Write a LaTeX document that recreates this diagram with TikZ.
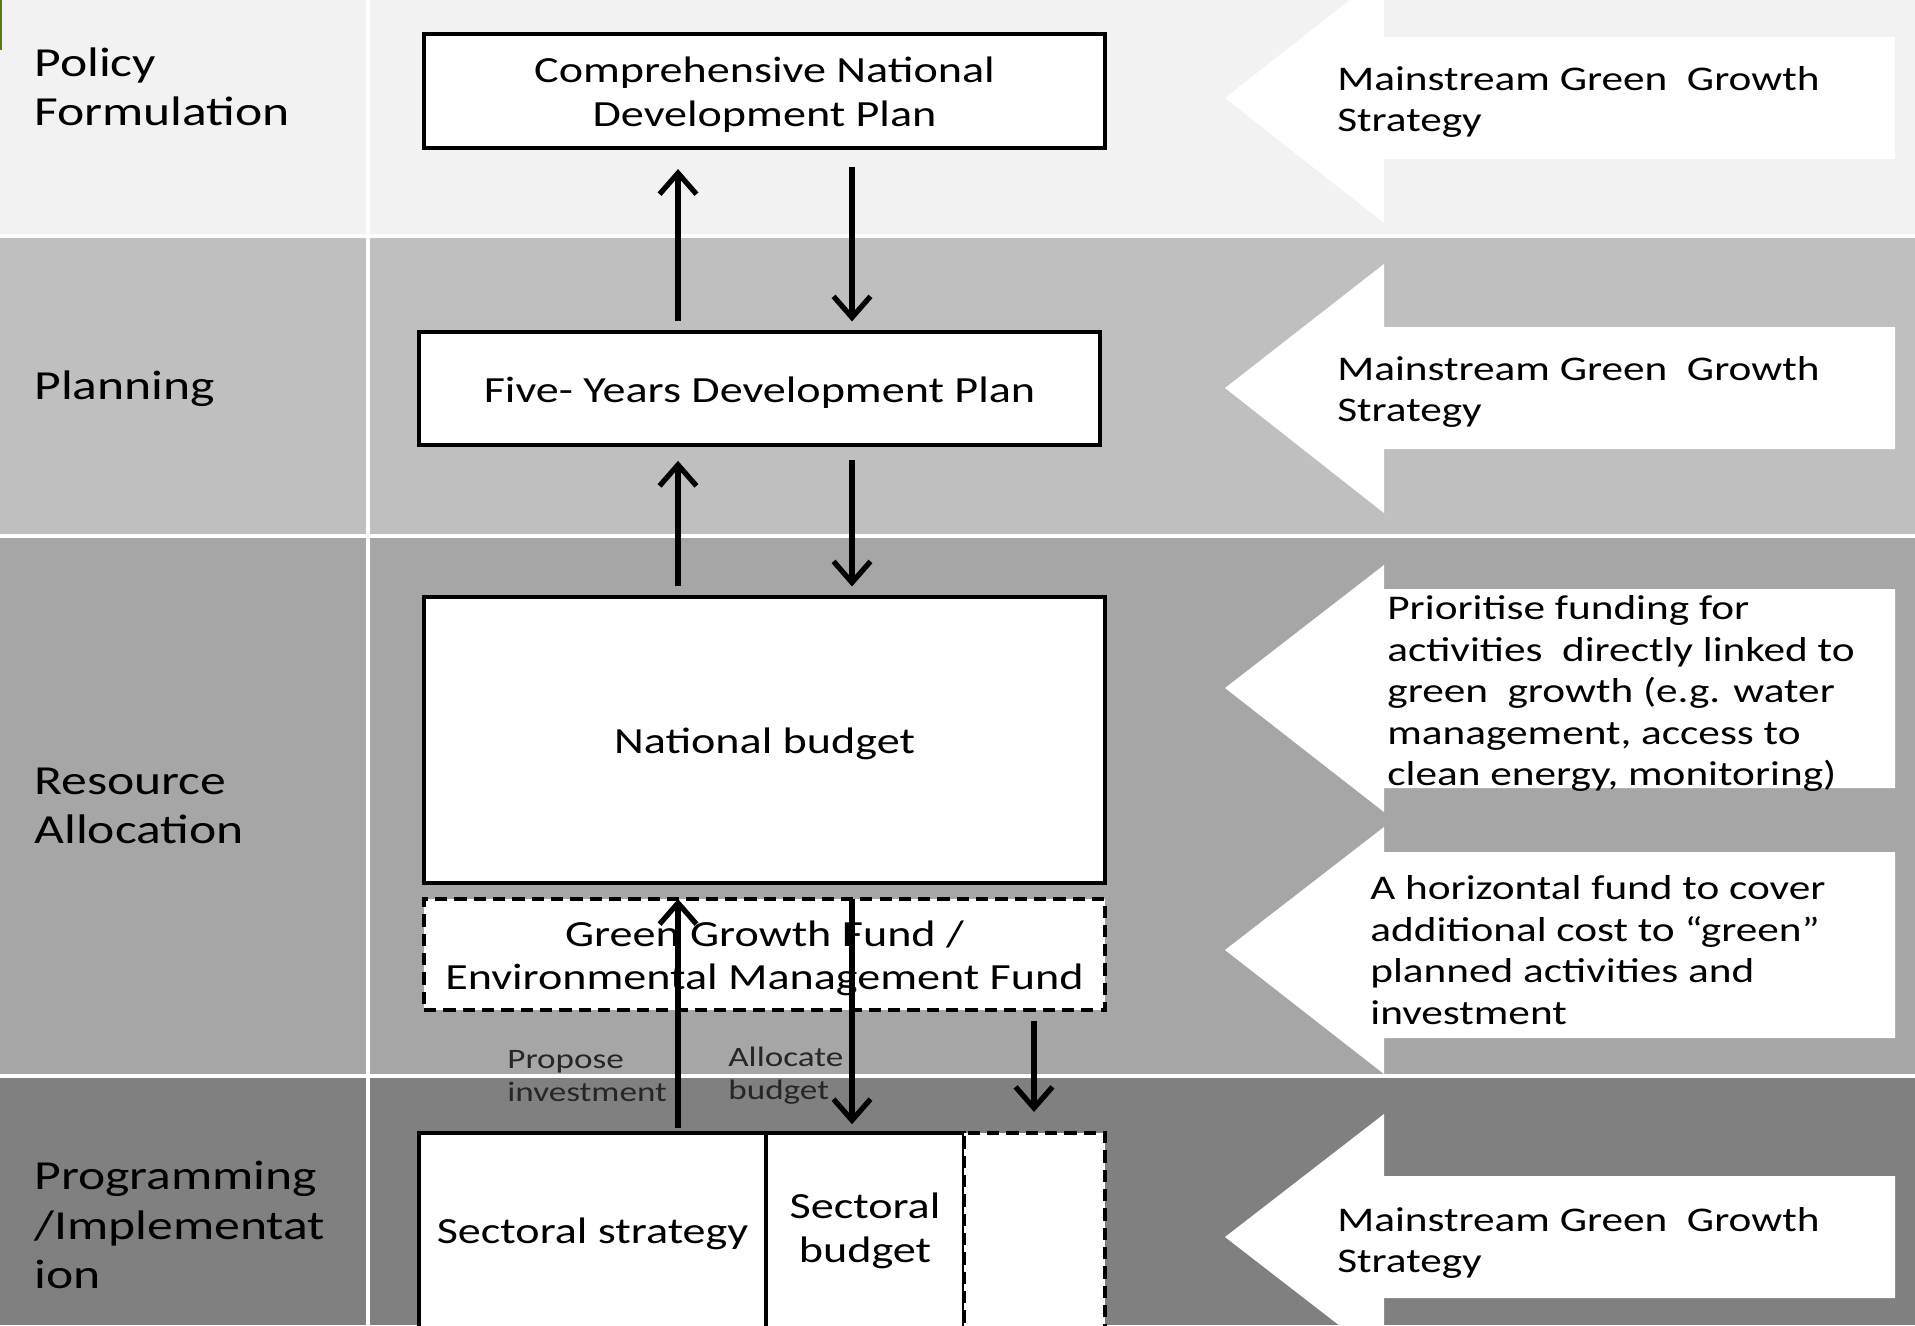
\documentclass[tikz,border=0pt]{standalone}
\usepackage{fontspec}
\setmainfont{Carlito}[FakeStretch=1.25]
\usetikzlibrary{arrows.meta}
\definecolor{bandA}{HTML}{F2F2F2}
\definecolor{bandB}{HTML}{BFBFBF}
\definecolor{bandC}{HTML}{A6A6A6}
\definecolor{bandD}{HTML}{808080}
\definecolor{smalltxt}{HTML}{262626}
\definecolor{oliveline}{HTML}{5A7A1A}
\tikzset{
  sep/.style={white, line width=1.8pt},
  phase/.style={anchor=west, align=left, inner sep=0pt, font=\fontsize{23.5}{28}\selectfont},
  box/.style={draw=black, fill=white, line width=1.9pt, inner sep=0pt, outer sep=0pt},
  dbox/.style={box, dash pattern=on 7pt off 4pt},
  btext/.style={align=center, inner sep=0pt, yshift=-2.2pt, font=\fontsize{21}{25}\selectfont},
  rtext/.style={anchor=west, align=left, inner sep=0pt, yshift=-1.6pt, font=\fontsize{19.7}{23.6}\selectfont},
  small/.style={anchor=west, align=left, inner sep=0pt, text=smalltxt, font=\fontsize{16}{18.8}\selectfont},
  arr/.style={line width=3pt, -{Straight Barb[length=12pt, width=21pt]}},
  blockarrow/.style={fill=white}
}
\begin{document}
\begin{tikzpicture}[x=0.02cm, y=-0.02cm]
\useasboundingbox (0,0) rectangle (1915,1325);
\clip (0,0) rectangle (1915,1325);
% bands
\fill[bandA] (0,0) rectangle (1915,236);
\fill[bandB] (0,236) rectangle (1915,536);
\fill[bandC] (0,536) rectangle (1915,1076);
\fill[bandD] (0,1076) rectangle (1915,1325);
\draw[sep] (0,236) -- (1915,236);
\draw[sep] (0,536) -- (1915,536);
\draw[sep] (0,1076) -- (1915,1076);
\draw[sep] (368,0) -- (368,1325);
\draw[oliveline, line width=1.2pt] (1,0) -- (1,50);
% phase labels
\node[phase] (p1) at (34,87) {Policy\\Formulation};
\node[phase] (p2) at (34,389) {Planning};
\node[phase] (p3) at (34,806) {Resource\\Allocation};
\node[phase] (p4) at (34,1225) {Programming\\/Implementat\\ion};
% block arrows
\fill[blockarrow] (1225,98) -- (1384,-27) -- (1384,37) -- (1895,37) -- (1895,159) -- (1384,159) -- (1384,223) -- cycle;
\fill[blockarrow] (1225,388) -- (1384,264) -- (1384,327) -- (1895,327) -- (1895,449) -- (1384,449) -- (1384,513) -- cycle;
\fill[blockarrow] (1225,688) -- (1384,565) -- (1384,589) -- (1895,589) -- (1895,788) -- (1384,788) -- (1384,812) -- cycle;
\fill[blockarrow] (1225,950) -- (1384,827) -- (1384,852) -- (1895,852) -- (1895,1038) -- (1384,1038) -- (1384,1074) -- cycle;
\fill[blockarrow] (1225,1237) -- (1384,1114) -- (1384,1176) -- (1895,1176) -- (1895,1298) -- (1384,1298) -- (1384,1360) -- cycle;
\node[rtext] (r1) at (1337,99) {Mainstream Green\ \ Growth\\Strategy};
\node[rtext] (r2) at (1337,389) {Mainstream Green\ \ Growth\\Strategy};
\node[rtext] (r3) at (1387,691) {Prioritise funding for\\activities\ \ directly linked to\\green\ \ growth (e.g. water\\management, access to\\clean energy, monitoring)};
\node[rtext, yshift=1.6pt] (r4) at (1370,950) {A horizontal fund to cover\\additional cost to “green”\\planned activities and\\investment};
\node[rtext] (r5) at (1337,1240) {Mainstream Green\ \ Growth\\Strategy};
% boxes
\node[box, minimum width=13.62cm, minimum height=2.28cm] (cndp) at (764.5,91) {};
\node[box, minimum width=13.62cm, minimum height=2.26cm] (fydp) at (759.5,388.5) {};
\node[box, minimum width=13.62cm, minimum height=5.72cm] (nb) at (764.5,740) {};
\node[dbox, minimum width=13.62cm, minimum height=2.22cm] (ggf) at (764.5,954.5) {};
\node[box, minimum width=6.94cm, minimum height=3.96cm] (ss) at (592.5,1232) {};
\node[box, minimum width=3.96cm, minimum height=3.96cm] (sb) at (865,1232) {};
\node[dbox, minimum width=2.82cm, minimum height=3.96cm] (de) at (1034.5,1232) {};
\node[btext] (cndpt) at (cndp.center) {Comprehensive National\\Development Plan};
\node[btext] (fydpt) at (fydp.center) {Five- Years Development Plan};
\node[btext] (nbt) at (nb.center) {National budget};
\node[btext] (ggft) at (ggf.center) {Green Growth Fund /\\Environmental Management Fund};
\node[btext, yshift=1.4pt] (sst) at (ss.center) {Sectoral strategy};
\node[btext, yshift=3pt] (sbt) at (sb.center) {Sectoral\\budget};
% arrow columns
\coordinate (ux) at (678,0);
\coordinate (dx) at (852,0);
\coordinate (sx) at (1034,0);
% connectors
\draw[arr, shorten <=6pt, shorten >=12pt] (fydp.north -| ux) -- (cndp.south -| ux);
\draw[arr, shorten <=11pt, shorten >=6pt] (cndp.south -| dx) -- (fydp.north -| dx);
\draw[arr, shorten <=6pt, shorten >=9pt] (nb.north -| ux) -- (fydp.south -| ux);
\draw[arr, shorten <=8.5pt, shorten >=6pt] (fydp.south -| dx) -- (nb.north -| dx);
\draw[arr, shorten <=3pt, shorten >=0pt] (ss.north -| ux) -- (ggf.north -| ux);
\draw[arr, shorten >=5pt] (ggf.north -| dx) -- (sb.north -| dx);
\draw[arr, shorten <=6pt, shorten >=12pt] (ggf.south -| sx) -- (de.north -| sx);
% small labels
\node[small] (lp) at (507,1076) {Propose\\investment};
\node[small] (la) at (728,1076) {Allocate\\budget};
\end{tikzpicture}
\end{document}
